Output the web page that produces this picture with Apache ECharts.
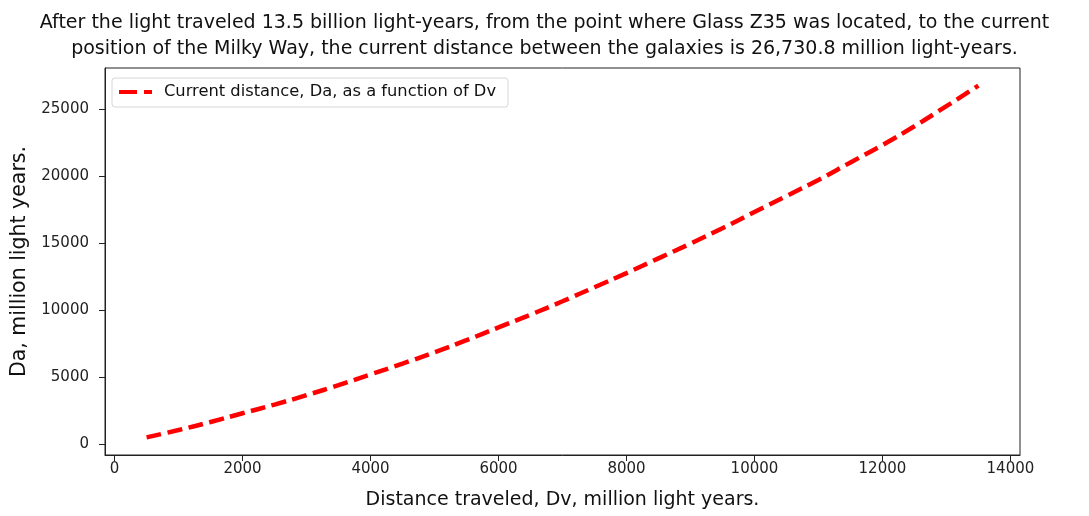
<!DOCTYPE html>
<html>
<head>
<meta charset="utf-8">
<script src="https://cdn.jsdelivr.net/npm/echarts@6/dist/echarts.min.js"></script>
<style>
  html, body { margin: 0; padding: 0; background: #fff; }
  #chart { width: 1089px; height: 516px; }
</style>
</head>
<body>
<div id="chart"></div>
<script>
// Distance traveled by light, Dv (million light years)
const traveled = [500, 1000, 1500, 2000, 2500, 3000, 3500, 4000, 4500, 5000, 5500, 6000, 6500,
  7000, 7500, 8000, 8500, 9000, 9500, 10000, 10500, 11000, 11500, 12000, 12500, 13000, 13500];
// Current distance between the galaxies, Da (million light years)
const currentDistance = [500, 1050, 1650, 2300, 2950, 3650, 4400, 5200, 6000, 6850, 7750, 8700, 9650,
  10650, 11700, 12750, 13850, 14950, 16100, 17300, 18500, 19700, 21000, 22300, 23700, 25200, 26730.8];

const xTicks = [0, 2000, 4000, 6000, 8000, 10000, 12000, 14000];
const yTicks = [0, 5000, 10000, 15000, 20000, 25000];

const titleLines = [
  'After the light traveled 13.5 billion light-years, from the point where Glass Z35 was located, to the current',
  'position of the Milky Way, the current distance between the galaxies is 26,730.8 million light-years.'
];
const seriesName = 'Current distance, Da, as a function of Dv';
const xName = 'Distance traveled, Dv, million light years.';
const yName = 'Da, million light years.';

const font = 'DejaVu Sans';
const chart = echarts.init(document.getElementById('chart'), null, { renderer: 'canvas' });

chart.setOption({
  animation: false,
  backgroundColor: '#fff',
  title: {
    text: titleLines.join('\n'),
    left: 'center',
    top: 5,
    textStyle: { fontFamily: font, fontSize: 19, fontWeight: 'normal', color: '#111', lineHeight: 26 }
  },
  legend: {
    left: 112,
    top: 78,
    data: [{ name: seriesName, icon: 'path://M0,0h18v4h-18zM25,0h8v4h-8z' }],
    itemWidth: 33,
    itemHeight: 4,
    itemGap: 6,
    padding: [6, 12, 7, 7],
    borderColor: '#d6d6d6',
    borderWidth: 1,
    borderRadius: 3,
    textStyle: { fontFamily: font, fontSize: 16.3, color: '#111', padding: [0, 0, 0, 7] }
  },
  grid: {
    left: 105, right: 69, top: 68, bottom: 61,
    show: true, borderColor: '#222', borderWidth: 1, backgroundColor: 'transparent'
  },
  xAxis: {
    type: 'value',
    min: -150,
    max: 14150,
    name: xName,
    nameLocation: 'middle',
    nameGap: 36,
    nameTextStyle: { fontFamily: font, fontSize: 19, color: '#111' },
    axisLine: { show: true, onZero: false, lineStyle: { color: '#222' } },
    axisTick: { show: true, length: 6, customValues: xTicks, lineStyle: { color: '#222' } },
    axisLabel: { customValues: xTicks, formatter: v => String(v), fontFamily: font, fontSize: 15, color: '#222', margin: 7 },
    splitLine: { show: false }
  },
  yAxis: {
    type: 'value',
    min: -811,
    max: 28042,
    name: yName,
    nameLocation: 'middle',
    nameGap: 74,
    nameTextStyle: { fontFamily: font, fontSize: 20.5, color: '#111' },
    axisLine: { show: true, onZero: false, lineStyle: { color: '#222' } },
    axisTick: { show: true, length: 6, customValues: yTicks, lineStyle: { color: '#222' } },
    axisLabel: { customValues: yTicks, formatter: v => String(v), fontFamily: font, fontSize: 15, color: '#222', margin: 16 },
    splitLine: { show: false }
  },
  series: [{
    name: seriesName,
    type: 'line',
    data: traveled.map((v, i) => [v, currentDistance[i]]),
    symbol: 'none',
    smooth: true,
    color: '#ff0000',
    lineStyle: { color: '#ff0000', width: 4.5, type: [15, 6.5], cap: 'butt' }
  }]
});
</script>
</body>
</html>
